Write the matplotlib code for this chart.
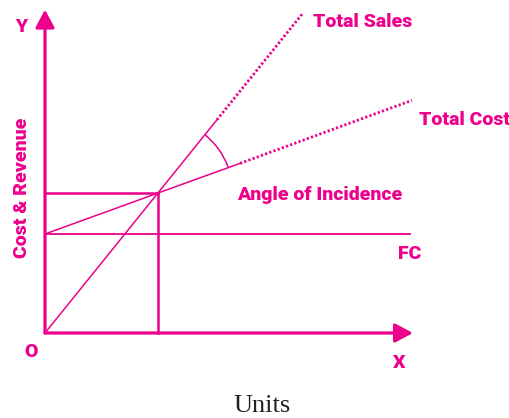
import matplotlib.pyplot as plt
from matplotlib.patches import Arc
import numpy as np

# diagram data (units on x, cost/revenue on y)
fixed_cost = 3.0
bep = (3.42, 4.24)            # break-even point
sales_x = [0.0, 3.42, 5.21]   # solid part of total sales
sales_y = [0.0, 4.24, 6.46]
sales_ext_x = [5.21, 7.82]    # dotted extension
sales_ext_y = [6.46, 9.70]
cost_x = [0.0, 3.42, 5.91]    # solid part of total cost
cost_y = [3.0, 4.24, 5.14]
cost_ext_x = [5.91, 11.12]
cost_ext_y = [5.14, 7.05]
fc_x = [0.0, 11.1]
x_axis_end = 11.15
y_axis_end = 9.8
arc_radius = 2.27

MAG = '#EC008C'

fig = plt.figure(figsize=(5.1, 4.18), dpi=100)
ax = fig.add_axes([0, 0, 1, 1])
ax.set_xlim(-45 / 33, 465 / 33)
ax.set_ylim(-85 / 33, 333 / 33)
ax.axis('off')

# axes with arrow heads
arr = dict(arrowstyle='-|>,head_length=0.75,head_width=0.4', mutation_scale=14.4,
           color=MAG, lw=2.3, shrinkA=0, shrinkB=0)
ax.annotate('', xy=(x_axis_end, 0), xytext=(0, 0), arrowprops=arr)
ax.annotate('', xy=(0, y_axis_end), xytext=(0, 0), arrowprops=arr)

# lines
ax.plot(fc_x, [fixed_cost, fixed_cost], color=MAG, lw=1.3, solid_capstyle='butt')
ax.plot(sales_x, sales_y, color=MAG, lw=1.1)
ax.plot(sales_ext_x, sales_ext_y, color=MAG, lw=2.0, linestyle=(0, (0.8, 0.8)))
ax.plot(cost_x, cost_y, color=MAG, lw=1.1)
ax.plot(cost_ext_x, cost_ext_y, color=MAG, lw=2.0, linestyle=(0, (0.8, 0.8)))
ax.plot([0, bep[0]], [bep[1], bep[1]], color=MAG, lw=1.8)
ax.plot([bep[0], bep[0]], [0, bep[1]], color=MAG, lw=1.8)

# angle of incidence arc
t1 = np.degrees(np.arctan2(cost_y[2] - bep[1], cost_x[2] - bep[0]))
t2 = np.degrees(np.arctan2(sales_y[2] - bep[1], sales_x[2] - bep[0]))
ax.add_patch(Arc(bep, 2 * arc_radius, 2 * arc_radius, theta1=t1, theta2=t2,
                 color=MAG, lw=1.1))

lab = dict(color=MAG, family=['Roboto', 'DejaVu Sans'], fontweight=900, fontsize=14)
ax.text(8.12, 9.27, 'Total Sales', ha='left', va='baseline', **lab)
ax.text(11.33, 6.30, 'Total Cost', ha='left', va='baseline', **lab)
ax.text(5.82, 4.03, 'Angle of Incidence', ha='left', va='baseline', **lab)
ax.text(10.70, 2.24, 'FC', ha='left', va='baseline', **lab)
ax.text(10.55, -1.06, 'X', ha='left', va='baseline', **lab)
ax.text(-0.61, -0.73, 'O', ha='left', va='baseline', **lab)
ax.text(-0.91, 9.12, 'Y', ha='left', va='baseline', **lab)
ax.text(-0.71, 4.39, 'Cost & Revenue', ha='center', va='center', rotation=90, **lab)
ax.text(6.58, -2.40, 'Units', ha='center', va='baseline', color='#231F20',
        family='Liberation Serif', fontsize=19)

fig.savefig('out.png', dpi=100)
